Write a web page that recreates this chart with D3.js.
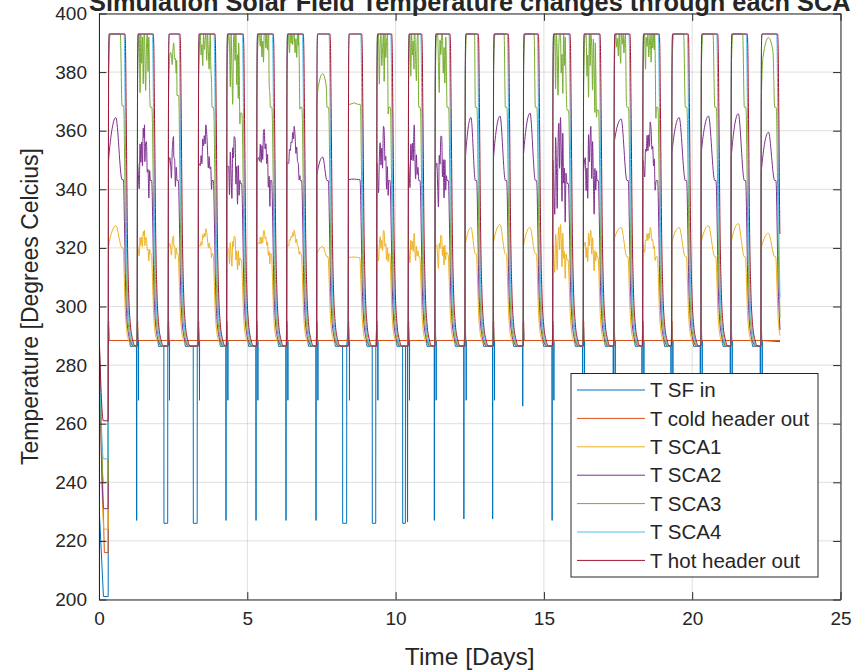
<!DOCTYPE html>
<html><head><meta charset="utf-8">
<script src="https://cdn.jsdelivr.net/npm/d3@7"></script>
<style>
body{margin:0;background:#fff}
svg{display:block}
text{font-family:"Liberation Sans",Arial,Helvetica,sans-serif;fill:#262626}
</style>
</head><body>
<svg id="chart" width="868" height="671"></svg>
<script>
// ---------------- data ----------------
const seriesNames = ["T SF in","T cold header out","T SCA1","T SCA2","T SCA3","T SCA4","T hot header out"];
const seriesColors = ["#0072BD","#D95319","#EDB120","#7E2F8E","#77AC30","#4DBEEE","#A2142F"];
const xTickValues = [0,5,10,15,20,25];
const yTickValues = [200,220,240,260,280,300,320,340,360,380,400];
const titleText = "Simulation Solar Field Temperature changes through each SCA";
const xLabelText = "Time [Days]";
const yLabelText = "Temperature [Degrees Celcius]";

// daily start / end of solar field operation [days]
const sunrise = [0.314,1.291,2.336,3.348,4.305,5.317,6.328,7.34,8.405,9.363,10.428,11.328,12.34,13.294,14.305,15.297,16.329,17.363,18.331,19.309,20.297,21.308,22.32];
const sunset  = [0.877,1.831,2.731,3.911,4.865,5.877,6.888,7.788,8.857,9.868,10.88,11.834,12.788,13.8,14.811,15.88,16.89,17.9,18.89,19.868,20.86,21.857,22.88];
const endTime = 22.96;

const nightTemp = 286.5, sfNight = 286.4, sfDay = 288.4, coldHeaderTemp = 288.4, plateauTemp = 393;
const riseShape = [365, 389];
const coldKick = 295;
const sfKick = [294, 292];

// start-up transient (t = 0 .. first sunrise)
const initStart   = [293, 292, 292, 292, 292, 292, 292];
const initMinTime = [0.15, 0.18, 0.17, 0.16, 0.155, 0.15, 0.145];
const initMin     = [201, 216, 224, 231, 240, 248, 261];
const finalValue  = [288, 288.4, 290, 292, 296, 303, 325];

// SCA1 (yellow) daily values
const sca1Start = [320.5,321,320,321,320,321,321,318,316.7,321,320,320,321,322,321,321,320,323,321,322,322,322,320];
const sca1Peak  = [327.6,326,324,326.6,324,326,326,320.5,316.9,326,325,324,327,328,327,328,326,327,327,327,327.6,328.3,325];
const sca1End   = [320,318,318,318,316,318,318,317,316.7,318,317,318,318,318,318,316,317,317,317,317,317,317,317];
const sca1Noise = [0,5,5,3,9,4,2,0,0,7,7,9,0,0,0,13,9,0,4,0,0,0,0];
// SCA2 (purple)
const sca2Start = [350,349,347,349,348,349,349,345,343.3,349,349,346,350,351,352,350,346,356,350,352.5,352.5,351,346];
const sca2Peak  = [364.5,362,358,362,358,360.5,361.5,351,343.5,361.5,362,358,364.5,365,366,364.5,361.5,364,363,364.5,365,365.8,359.5];
const sca2End   = [343.3,343,343,343,342,343,343,343,343.3,343,343,343,343,343,343,342,343,343,343,343,343,343,343];
const sca2Noise = [0,12,10,7,18,10,4,0,0,14,13,18,0,0,0,26,20,0,9,0,0,0,0];
// SCA3 (green)
const sca3Start = [380,378,372,378,378,378,378,369,369,378,378,376,380,380,380,378,376,380,378,380,380,380,369];
const sca3Rise  = [393,393,385,393,393,393,393,375,369,393,393,393,393,393,393,393,393,393,393,393,393,393,385];
const sca3Peak  = [393,393,390,393,393,393,393,379.5,369.5,393,393,393,393,393,393,393,393,393,393,393,393,393,391.8];
const sca3Fall  = [393,392,384,393,390,393,393,375,369,393,393,392,393,393,393,392,390,393,393,393,393,393,387];
const sca3End   = [368.5,368,372,368,366,368,368,368,369,368,368,368,368,368,368,367,367,368,368,368,368,368,368];
const sca3Noise = [0,20,6,12,24,12,8,0,0,18,16,20,0,0,0,22,24,10,12,0,0,0,0];

// fixed jitter pattern (cloud transients), fraction of the day's noise amplitude
const jitter = [0,-0.45,0.1,-0.8,-0.2,-1,0.15,-0.5,-0.05,-0.85,0.1,-0.3,-0.95,-0.2,0.05,-0.6,-0.3,-0.9,0.1,-0.45,-0.15,-0.75,0,-0.5,-1,-0.1,-0.35,0.1,-0.65,-0.2,-0.8,0.05,-0.4];

// evening cool-down profile: [days after start of decay, fraction of (value - night)]
const decayProfile = [[0,1],[0.015,0.97],[0.04,0.75],[0.08,0.36],[0.12,0.18],[0.18,0.07],[0.26,0.02],[0.34,0]];
const decayLag = [0, 0, -0.07, -0.06, -0.05, -0.035, 0];

// T SF in dips at start-up of each day
const sfDipStart = [1.268,2.19,3.18,4.28,5.292,6.303,7.315,8.216,9.215,10.24,10.40,11.305,12.30,13.27,14.285,15.275,16.304,17.338,18.306,19.284,20.272,21.283,22.295];
const sfDipEnd   = [1.272,2.316,3.31,4.284,5.296,6.307,7.319,8.35,9.33,10.33,10.404,11.309,12.304,13.274,14.289,15.279,16.308,17.342,18.31,19.288,20.276,21.287,22.299];
const sfDipMin   = [227,226,226,227,227,227,227,226,226,226,226.5,227,227.5,227.5,266,227,227,227,227,227,227,227,227];
const sfSecondMin = [null,268,268,268,268,268,268,268,268,268,268,268,268,268,null,268,268,268,268,268,268,268,268];

// ---------------- build the series ----------------
function decay(S, lag, from, stop, pts){
  for (const [u,f] of decayProfile){
    const t = S + lag + u;
    if (t >= stop) return;
    pts.push([t, nightTemp + f*(from - nightTemp)]);
  }
}
function stopFor(d){ return d < sunrise.length-1 ? sunrise[d+1]-0.006 : endTime; }

function buildSF(){
  const pts = [[0,initStart[0]],[0.012,230],[initMinTime[0],initMin[0]],[sunrise[0]-0.004,initMin[0]]];
  let di = 0;
  sunrise.forEach((R,d)=>{
    const S = sunset[d];
    while (di < sfDipStart.length && sfDipStart[di] < R){
      const a = sfDipStart[di], b = sfDipEnd[di], m = sfDipMin[di];
      pts.push([a-0.003,sfNight],[a,m],[b,m],[b+0.003,sfNight]);
      di++;
    }
    pts.push([R,sfKick[0]],[R+0.015,sfKick[1]],[R+0.025,sfDay]);
    if (sfSecondMin[d] != null) pts.push([R+0.036,sfDay],[R+0.04,sfSecondMin[d]],[R+0.044,sfDay]);
    if (S+0.18 < endTime) pts.push([S+0.15,sfDay],[S+0.18,sfNight]);
  });
  pts.push([endTime, finalValue[0]]);
  return pts;
}
function buildCold(){
  const k = 1;
  const pts = [[0,initStart[k]],[initMinTime[k],initMin[k]],[sunrise[0]-0.004,initMin[k]]];
  sunrise.forEach((R,d)=>{
    if (d>0) pts.push([R-0.004, coldHeaderTemp]);
    pts.push([R,coldKick],[R+0.015,coldKick],[R+0.02,coldHeaderTemp]);
  });
  pts.push([endTime, finalValue[k]]);
  return pts;
}
function buildHot(k){
  const pts = [[0,initStart[k]],[initMinTime[k],initMin[k]],[sunrise[0]-0.004,initMin[k]]];
  sunrise.forEach((R,d)=>{
    if (d>0) pts.push([R-0.004, nightTemp]);
    pts.push([R+0.006,riseShape[0]],[R+0.016,riseShape[1]],[R+0.03,plateauTemp]);
    decay(sunset[d], decayLag[k], plateauTemp, stopFor(d), pts);
  });
  pts.push([endTime, finalValue[k]]);
  return pts;
}
function buildArc(k, arrs, noise){
  const pts = [[0,initStart[k]],[initMinTime[k],initMin[k]],[sunrise[0]-0.004,initMin[k]]];
  sunrise.forEach((R,d)=>{
    const S = sunset[d], L = S - R;
    if (d>0) pts.push([R-0.004, nightTemp]);
    let keys;
    if (arrs.length === 3) keys = [[R+0.008,arrs[0][d]],[R+0.45*L,arrs[1][d]],[S-0.1,arrs[2][d]]];
    else keys = [[R+0.008,arrs[0][d]],[R+0.12*L,arrs[1][d]],[R+0.45*L,arrs[2][d]],[R+0.72*L,arrs[3][d]],[S-0.1,arrs[4][d]]];
    const day = keys.slice();
    const amp = noise[d];
    if (amp > 0){
      const base = d3.scaleLinear().domain(keys.map(p=>p[0])).range(keys.map(p=>p[1]));
      let j = d*5;
      for (let t = R+0.1*L+0.012; t < S-0.11; t += 0.027){
        if (keys.some(p=>Math.abs(p[0]-t) < 0.006)) continue;
        day.push([t, Math.min(plateauTemp, base(t) + jitter[j++ % jitter.length]*amp)]);
      }
      day.sort((a,b)=>a[0]-b[0]);
    }
    pts.push(...day);
    decay(S, decayLag[k], keys[keys.length-1][1], stopFor(d), pts);
  });
  pts.push([endTime, finalValue[k]]);
  return pts;
}

const seriesData = [
  buildSF(),
  buildCold(),
  buildArc(2, [sca1Start,sca1Peak,sca1End], sca1Noise),
  buildArc(3, [sca2Start,sca2Peak,sca2End], sca2Noise),
  buildArc(4, [sca3Start,sca3Rise,sca3Peak,sca3Fall,sca3End], sca3Noise),
  buildHot(5),
  buildHot(6)
];

// ---------------- draw ----------------
const svg = d3.select("#chart");
const plot = {left:99, right:840.5, top:13.5, bottom:599.5};
const x = d3.scaleLinear().domain([0,25]).range([plot.left, plot.right]);
const y = d3.scaleLinear().domain([200,400]).range([plot.bottom, plot.top]);

svg.append("rect").attr("width",868).attr("height",671).attr("fill","#fff");

// grid
const grid = svg.append("g").attr("stroke","#262626").attr("stroke-opacity",0.15).attr("stroke-width",1);
xTickValues.forEach(v=>grid.append("line").attr("x1",x(v)).attr("x2",x(v)).attr("y1",plot.top).attr("y2",plot.bottom));
yTickValues.forEach(v=>grid.append("line").attr("x1",plot.left).attr("x2",plot.right).attr("y1",y(v)).attr("y2",y(v)));

svg.append("clipPath").attr("id","clip").append("rect")
  .attr("x",plot.left).attr("y",plot.top).attr("width",plot.right-plot.left).attr("height",plot.bottom-plot.top);

const smooth = d3.line().x(d=>x(d[0])).y(d=>y(d[1])).curve(d3.curveMonotoneX);
const straight = d3.line().x(d=>x(d[0])).y(d=>y(d[1]));
const lines = svg.append("g").attr("clip-path","url(#clip)");
seriesData.forEach((pts,i)=>{
  lines.append("path").attr("d",(i<2?straight:smooth)(pts))
    .attr("fill","none").attr("stroke",seriesColors[i]).attr("stroke-width",1)
    .attr("stroke-linejoin","round");
});

// axes (MATLAB style box with inward ticks)
const tl = 7.4;
const ax = svg.append("g");
const xb = d3.axisBottom(x).tickValues(xTickValues).tickSizeInner(-tl).tickSizeOuter(0).tickPadding(12);
const xt = d3.axisTop(x).tickValues(xTickValues).tickSizeInner(-tl).tickSizeOuter(0).tickFormat("");
const yl = d3.axisLeft(y).tickValues(yTickValues).tickSizeInner(-tl).tickSizeOuter(0).tickPadding(12);
const yr = d3.axisRight(y).tickValues(yTickValues).tickSizeInner(-tl).tickSizeOuter(0).tickFormat("");
ax.append("g").attr("transform",`translate(0,${plot.bottom})`).call(xb);
ax.append("g").attr("transform",`translate(0,${plot.top})`).call(xt);
ax.append("g").attr("transform",`translate(${plot.left},0)`).call(yl);
ax.append("g").attr("transform",`translate(${plot.right},0)`).call(yr);
ax.selectAll(".domain").attr("stroke","#262626");
ax.selectAll(".tick line").attr("stroke","#262626");
ax.selectAll(".tick text").attr("fill","#262626").style("font-size","19px").style("font-family",'"Liberation Sans",Arial,sans-serif');

// title & labels
svg.append("text").attr("x",(plot.left+plot.right)/2).attr("y",11).attr("text-anchor","middle")
  .style("font-size","25.3px").style("font-weight","bold").attr("fill","#000").text(titleText);
svg.append("text").attr("x",(plot.left+plot.right)/2).attr("y",665).attr("text-anchor","middle")
  .style("font-size","24.5px").text(xLabelText);
svg.append("text").attr("transform",`translate(38,${(plot.top+plot.bottom)/2}) rotate(-90)`).attr("text-anchor","middle")
  .style("font-size","23px").text(yLabelText);

// legend
const lg = svg.append("g");
lg.append("rect").attr("x",571).attr("y",373.5).attr("width",247).attr("height",203.5)
  .attr("fill","#fff").attr("stroke","#262626").attr("stroke-width",1);
seriesNames.forEach((n,i)=>{
  const yy = 390 + i*28.4;
  lg.append("line").attr("x1",577).attr("x2",645).attr("y1",yy).attr("y2",yy).attr("stroke",seriesColors[i]).attr("stroke-width",1);
  lg.append("text").attr("x",650).attr("y",yy).attr("dy","0.35em").style("font-size","20.5px").text(n);
});
</script>
</body></html>
